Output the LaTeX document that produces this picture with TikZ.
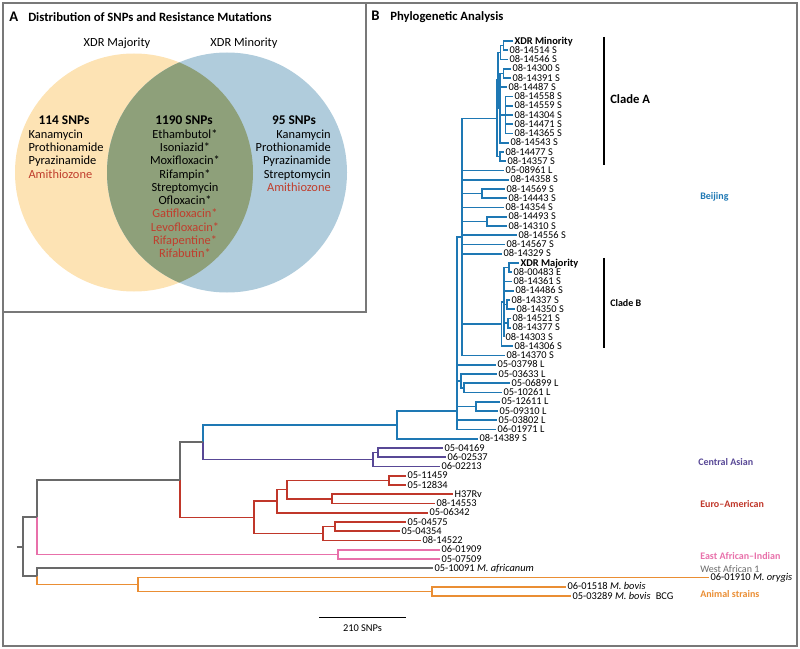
\documentclass[tikz,border=0pt]{standalone}
\usepackage{fontspec}
\setmainfont{Carlito}

\definecolor{bjblue}{RGB}{30,120,180}
\definecolor{caspurple}{RGB}{88,72,150}
\definecolor{eured}{RGB}{192,55,42}
\definecolor{eaipink}{RGB}{232,112,170}
\definecolor{treegray}{RGB}{105,105,105}
\definecolor{animorange}{RGB}{234,142,52}
\definecolor{vennorange}{RGB}{253,227,180}
\definecolor{vennblue}{RGB}{176,204,220}
\definecolor{venngreen}{RGB}{142,160,122}
\definecolor{drugred}{RGB}{192,62,45}
\definecolor{framegray}{RGB}{120,120,120}

\tikzset{
  frame/.style={draw=framegray, line width=1.2pt},
  leaf/.style={anchor=mid west, inner sep=1pt, font=\fontsize{7.8}{8}\selectfont},
  leafbold/.style={leaf, font=\fontsize{7.8}{8}\selectfont\bfseries},
  vtxt/.style={inner sep=0pt, font=\fontsize{9.3}{10}\selectfont},
  vhead/.style={inner sep=0pt, font=\fontsize{10}{10}\selectfont\bfseries},
  panel/.style={anchor=mid west, inner sep=0pt, font=\fontsize{9.5}{10}\selectfont\bfseries},
  group/.style={anchor=mid west, inner sep=0pt, font=\fontsize{7.5}{8}\selectfont\bfseries},
  bjline/.style={draw=bjblue, line width=1.3pt},
  casline/.style={draw=caspurple, line width=1.3pt},
  euline/.style={draw=eured, line width=1.3pt},
  eailine/.style={draw=eaipink, line width=1.3pt},
  grline/.style={draw=treegray, line width=1.3pt},
  anline/.style={draw=animorange, line width=1.3pt},
}

% y of a leaf row
\newcommand\yi[1]{41+9.25*(#1)}
\newcommand\tip[4]{\coordinate (#1) at (#2,{\yi{#3}}); \node[leaf] (#1t) at (#1) {#4};}
\newcommand\fork[3]{\coordinate (#1) at (#2,{\yi{#3}});}

\begin{document}
\begin{tikzpicture}[x=0.75pt,y=-0.75pt]
\useasboundingbox (0,0) rectangle (800,649);

% panel A: venn
\fill[vennorange] (134,172.5) circle[radius=89.25pt];
\fill[vennblue] (227,172.5) circle[radius=90pt];
\begin{scope}
  \clip (134,172.5) circle[radius=89.25pt];
  \fill[venngreen] (227,172.5) circle[radius=90pt];
\end{scope}
\draw[frame] (3,3) rectangle (797,646);
\draw[frame] (3,3) rectangle (366,312);

\node[panel, font=\fontsize{11}{11}\selectfont\bfseries] (pa) at (9,18) {A};
\node[panel] (patitle) at (28,18) {Distribution of SNPs and Resistance Mutations};
\node[vtxt] (majl) at (117,43) {XDR Majority};
\node[vtxt] (minl) at (244,43) {XDR Minority};

\node[vhead] (lsnp) at (64,120) {114 SNPs};
\node[vhead] (csnp) at (184,120) {1190 SNPs};
\node[vhead] (rsnp) at (294,120) {95 SNPs};
\foreach \d/\c [count=\k] in {Kanamycin/black, Prothionamide/black, Pyrazinamide/black, Amithiozone/drugred}
  \node[vtxt, anchor=mid west, text=\c] (ldrug\k) at (28.3,{121.7+13.3*\k}) {\d};
\foreach \d/\c [count=\k] in {Ethambutol*/black, Isoniazid*/black, Moxifloxacin*/black, Rifampin*/black,
    Streptomycin/black, Ofloxacin*/black, Gatifloxacin*/drugred, Levofloxacin*/drugred,
    Rifapentine*/drugred, Rifabutin*/drugred}
  \node[vtxt, anchor=mid, text=\c] (cdrug\k) at (185,{121.7+13.3*\k}) {\d};
\foreach \d/\c [count=\k] in {Kanamycin/black, Prothionamide/black, Pyrazinamide/black, Streptomycin/black, Amithiozone/drugred}
  \node[vtxt, anchor=mid east, text=\c] (rdrug\k) at (331,{121.7+13.3*\k}) {\d};

% panel B: tree
\node[panel, font=\fontsize{11}{11}\selectfont\bfseries] (pb) at (371,17) {B};
\node[panel] (pbtitle) at (390,17) {Phylogenetic Analysis};

\coordinate (l0) at (513,{\yi{0}}); \node[leafbold] (l0t) at (l0) {XDR Minority};
\tip{l1}{508}{1}{08-14514 S}
\tip{l2}{508}{2}{08-14546 S}
\tip{l3}{511}{3}{08-14300 S}
\tip{l4}{511}{4}{08-14391 S}
\tip{l5}{507}{5}{08-14487 S}
\tip{l6}{513}{6}{08-14558 S}
\tip{l7}{513}{7}{08-14559 S}
\tip{l8}{513}{8}{08-14304 S}
\tip{l9}{513}{9}{08-14471 S}
\tip{l10}{513}{10}{08-14365 S}
\tip{l11}{509}{11}{08-14543 S}
\tip{l12}{504}{12}{08-14477 S}
\tip{l13}{506}{13}{08-14357 S}
\tip{l14}{504}{14}{05-08961 L}
\tip{l15}{509}{15}{08-14358 S}
\tip{l16}{505}{16}{08-14569 S}
\tip{l17}{507}{17}{08-14443 S}
\tip{l18}{504}{18}{08-14354 S}
\tip{l19}{507}{19}{08-14493 S}
\tip{l20}{507}{20}{08-14310 S}
\tip{l21}{517}{21}{08-14556 S}
\tip{l22}{505}{22}{08-14567 S}
\tip{l23}{502}{23}{08-14329 S}
\coordinate (l24) at (519,{\yi{24}}); \node[leafbold] (l24t) at (l24) {XDR Majority};
\tip{l25}{512}{25}{08-00483 E}
\tip{l26}{512}{26}{08-14361 S}
\tip{l27}{514}{27}{08-14486 S}
\tip{l28}{510}{28}{08-14337 S}
\tip{l29}{515}{29}{08-14350 S}
\tip{l30}{511}{30}{08-14521 S}
\tip{l31}{511}{31}{08-14377 S}
\tip{l32}{504}{32}{08-14303 S}
\tip{l33}{513}{33}{08-14306 S}
\tip{l34}{505}{34}{08-14370 S}
\tip{l35}{496}{35}{05-03798 L}
\tip{l36}{497}{36}{05-03633 L}
\tip{l37}{510}{37}{05-06899 L}
\tip{l38}{502}{38}{05-10261 L}
\tip{l39}{500}{39}{05-12611 L}
\tip{l40}{498}{40}{05-09310 L}
\tip{l41}{497}{41}{05-03802 L}
\tip{l42}{496}{42}{06-01971 L}
\tip{l43}{478}{43}{08-14389 S}
\tip{l44}{443}{44}{05-04169}
\tip{l45}{446}{45}{06-02537}
\tip{l46}{440}{46}{06-02213}
\tip{l47}{406}{47}{05-11459}
\tip{l48}{406}{48}{05-12834}
\tip{l49}{453}{49}{H37Rv}
\tip{l50}{435}{50}{08-14553}
\tip{l51}{428}{51}{05-06342}
\tip{l52}{406}{52}{05-04575}
\tip{l53}{400}{53}{05-04354}
\tip{l54}{421}{54}{08-14522}
\tip{l55}{440}{55}{06-01909}
\tip{l56}{440}{56}{05-07509}
\tip{l57}{433}{57}{05-10091 \textit{M. africanum}}
\tip{l58}{709}{58}{06-01910 \textit{M. orygis}}
\tip{l59}{566}{59}{06-01518 \textit{M. bovis}}
\tip{l60}{571}{60}{05-03289 \textit{M. bovis}\enspace BCG}

\fork{a11}{503.5}{0.5}
\fork{a1}{500.5}{1.25}
\fork{a21}{503.5}{3.5}
\fork{a22}{505.5}{8}
\fork{a2}{500}{7.25}
\fork{a12}{498.3}{4.25}
\fork{a3}{500}{12.5}
\fork{cA}{496.7}{8.375}
\fork{p16}{482}{16.5}
\fork{p19}{487}{19.5}
\fork{b0}{509.3}{24.5}
\fork{b2}{506.7}{28.5}
\fork{b3}{508.3}{30.5}
\fork{b1}{504}{28.25}
\fork{cB}{501.5}{30.625}
\fork{bm}{462}{21.19}
\fork{s1a}{464}{37.5}
\fork{s1}{461}{36.75}
\fork{s2}{475.7}{39.5}
\fork{bmain}{456.7}{40}
\fork{bj}{396.7}{41.5}
\fork{cas1}{378.3}{44.5}
\fork{cas}{373.3}{45.25}
\fork{bc}{203.3}{43.375}
\fork{e11}{389.3}{47.5}
\fork{e12}{332.3}{49.5}
\fork{e1a}{286.7}{48.5}
\fork{e1}{276.7}{49.75}
\fork{e21}{335}{52.5}
\fork{e2}{322.7}{53.25}
\fork{eu}{254}{51.5}
\fork{mm}{180}{47.44}
\fork{eai}{337.7}{55.5}
\fork{up}{36.7}{51.47}
\fork{an1}{432.3}{59.5}
\fork{an}{138.3}{58.75}
\fork{lo}{36.7}{57.875}
\fork{root}{23.3}{54.67}
\fork{r0}{16.7}{54.67}

% Beijing
\foreach \c in {l0,l1} \draw[bjline] (a11) |- (\c);
\foreach \c in {a11,l2} \draw[bjline] (a1) |- (\c);
\foreach \c in {l3,l4} \draw[bjline] (a21) |- (\c);
\foreach \c in {l6,l7,l8,l9,l10} \draw[bjline] (a22) |- (\c);
\foreach \c in {a21,l5,a22,l11} \draw[bjline] (a2) |- (\c);
\foreach \c in {a1,a2} \draw[bjline] (a12) |- (\c);
\foreach \c in {l12,l13} \draw[bjline] (a3) |- (\c);
\foreach \c in {a12,a3} \draw[bjline] (cA) |- (\c);
\foreach \c in {l16,l17} \draw[bjline] (p16) |- (\c);
\foreach \c in {l19,l20} \draw[bjline] (p19) |- (\c);
\foreach \c in {l24,l25} \draw[bjline] (b0) |- (\c);
\foreach \c in {l28,l29} \draw[bjline] (b2) |- (\c);
\foreach \c in {l30,l31} \draw[bjline] (b3) |- (\c);
\foreach \c in {b0,l26,l27,b2,b3,l32} \draw[bjline] (b1) |- (\c);
\foreach \c in {b1,l33} \draw[bjline] (cB) |- (\c);
\foreach \c in {cA,l14,l15,p16,l18,p19,l21,l22,l23,cB,l34} \draw[bjline] (bm) |- (\c);
\foreach \c in {l37,l38} \draw[bjline] (s1a) |- (\c);
\foreach \c in {l36,s1a} \draw[bjline] (s1) |- (\c);
\foreach \c in {l39,l40} \draw[bjline] (s2) |- (\c);
\foreach \c in {bm,l35,s1,s2,l41,l42} \draw[bjline] (bmain) |- (\c);
\foreach \c in {bmain,l43} \draw[bjline] (bj) |- (\c);
\draw[bjline] (bc) |- (bj);
% Central Asian
\foreach \c in {l44,l45} \draw[casline] (cas1) |- (\c);
\foreach \c in {cas1,l46} \draw[casline] (cas) |- (\c);
\draw[casline] (bc) |- (cas);
% Euro-American
\foreach \c in {l47,l48} \draw[euline] (e11) |- (\c);
\foreach \c in {l49,l50} \draw[euline] (e12) |- (\c);
\foreach \c in {e11,e12} \draw[euline] (e1a) |- (\c);
\foreach \c in {e1a,l51} \draw[euline] (e1) |- (\c);
\foreach \c in {l52,l53} \draw[euline] (e21) |- (\c);
\foreach \c in {e21,l54} \draw[euline] (e2) |- (\c);
\foreach \c in {e1,e2} \draw[euline] (eu) |- (\c);
\draw[euline] (mm) |- (eu);
\draw[grline] (mm) |- (bc);
% East African-Indian
\foreach \c in {l55,l56} \draw[eailine] (eai) |- (\c);
\draw[eailine] (up) |- (eai);
\draw[grline] (up) |- (mm);
% animal strains
\foreach \c in {l59,l60} \draw[anline] (an1) |- (\c);
\foreach \c in {l58,an1} \draw[anline] (an) |- (\c);
\draw[anline] (lo) |- (an);
\draw[grline] (lo) |- (l57);
\foreach \c in {up,lo} \draw[grline] (root) |- (\c);
\draw[grline] (r0) -- (root);

% clades
\coordinate (ca1) at (604,37);
\coordinate (ca2) at (604,165);
\coordinate (cb1) at (604,258);
\coordinate (cb2) at (604,348);
\draw[line width=1.1pt] (ca1) -- (ca2);
\draw[line width=1.1pt] (cb1) -- (cb2);
\node[group, font=\fontsize{9.5}{10}\selectfont\bfseries] (cladea) at (610,100) {Clade A};
\node[group] (cladeb) at (610,303) {Clade B};

% lineages
\node[group, text=bjblue] (gbj) at (700,196) {Beijing};
\node[group, text=caspurple] (gcas) at (698,462) {Central Asian};
\node[group, text=eured] (geu) at (700,504) {Euro--American};
\node[group, text=eaipink] (geai) at (700,556) {East African--Indian};
\node[group, text=treegray, font=\fontsize{7.5}{8}\selectfont] (gwa) at (700,569) {West African 1};
\node[group, text=animorange] (gan) at (700,594) {Animal strains};

% scale
\coordinate (sb1) at (319.3,617.7);
\coordinate (sb2) at (406,617.7);
\draw[line width=1.1pt] (sb1) -- (sb2);
\node[leaf, anchor=mid] (sbt) at (362.5,628) {210 SNPs};
\end{tikzpicture}
\end{document}
